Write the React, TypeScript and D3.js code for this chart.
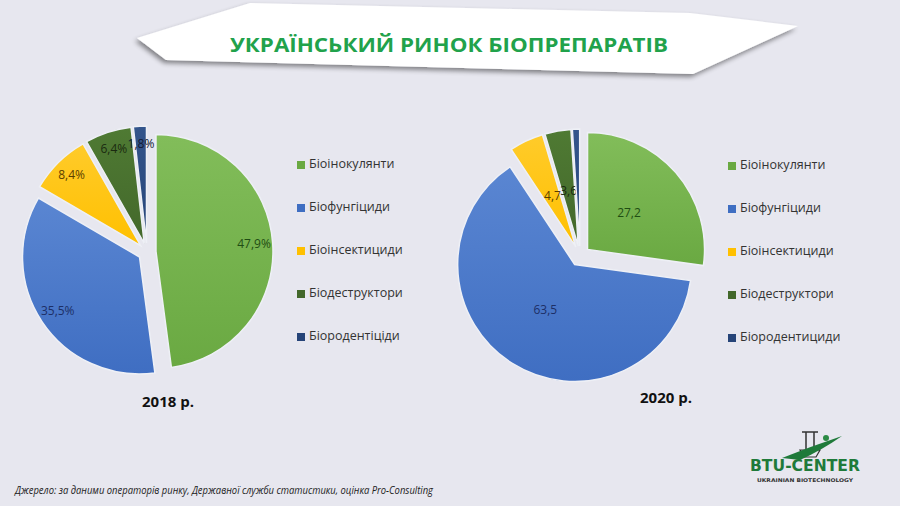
import React from 'react'
import * as d3 from 'd3'

const categories2018 = ['Біоінокулянти', 'Біофунгіциди', 'Біоінсектициди', 'Біодеструктори', 'Біородентіціди']
const categories2020 = ['Біоінокулянти', 'Біофунгіциди', 'Біоінсектициди', 'Біодеструктори', 'Біородентициди']
const values2018 = [47.9, 35.5, 8.4, 6.4, 1.8]
const values2020 = [27.2, 63.5, 4.7, 3.6, 1.0]
const labels2018 = ['47,9%', '35,5%', '8,4%', '6,4%', '1,8%']
const labels2020 = ['27,2', '63,5', '4,7', '3,6', '']

const colors = ['#6aa942', '#3f6ec2', '#ffc000', '#43682b', '#264478']
const lightColors = ['#82bd5a', '#5a86d2', '#ffcb2a', '#4f7a33', '#33558c']
const textColors = ['#1f4d13', '#1d2f66', '#5a3e00', '#1a2a10', '#111a33']

const W = 900
const H = 506
const R = 117

type PieProps = {
  id: string
  cx: number
  cy: number
  values: number[]
  labels: string[]
  labelRatio: number
  explode: number
}

function Pie({ id, cx, cy, values, labels, labelRatio, explode }: PieProps) {
  const arcs = d3.pie<number>().sort(null).value(d => d)(values)
  const arc = d3.arc<d3.PieArcDatum<number>>().innerRadius(0).outerRadius(R)

  return (
    <g transform={`translate(${cx},${cy})`}>
      {arcs.map((a, i) => {
        const mid = (a.startAngle + a.endAngle) / 2
        const dx = Math.sin(mid) * explode
        const dy = -Math.cos(mid) * explode
        const lr = R * labelRatio
        return (
          <g key={i} transform={`translate(${dx},${dy})`}>
            <path d={arc(a) || ''} fill={`url(#${id}-g${i})`} stroke="#eef0f6" strokeWidth={1.5} />
            {labels[i] && (
              <text
                x={Math.sin(mid) * lr}
                y={-Math.cos(mid) * lr}
                textAnchor="middle"
                dominantBaseline="middle"
                fontSize={12}
                fontFamily="'Open Sans', sans-serif"
                fill={textColors[i]}
              >
                {labels[i]}
              </text>
            )}
          </g>
        )
      })}
    </g>
  )
}

function Legend({ x, y, items }: { x: number; y: number; items: string[] }) {
  return (
    <g transform={`translate(${x},${y})`}>
      {items.map((t, i) => (
        <g key={t} transform={`translate(0,${i * 43})`}>
          <rect x={0} y={-4} width={8} height={8} fill={colors[i]} />
          <text x={12} y={0} dominantBaseline="middle" fontSize={12.5} fontFamily="'Open Sans', sans-serif" fill="#333">
            {t}
          </text>
        </g>
      ))}
    </g>
  )
}

export default function App() {
  const banner = [[137, 38], [250, 3], [690, 13], [798, 26], [693, 74], [166, 60]]
  const bannerPath = (d3.line()(banner as [number, number][]) || '') + 'Z'

  return (
    <svg width={W} height={H} style={{ position: 'absolute', left: 0, top: 0, display: 'block' }}>
      <defs>
        {['a', 'b'].map(id =>
          colors.map((c, i) => (
            <linearGradient key={id + i} id={`${id}-g${i}`} x1="0" y1="0" x2="0" y2="1">
              <stop offset="0%" stopColor={lightColors[i]} />
              <stop offset="100%" stopColor={c} />
            </linearGradient>
          ))
        )}
        <filter id="shadow" x="-10%" y="-30%" width="120%" height="160%">
          <feGaussianBlur in="SourceAlpha" stdDeviation="2.5" />
          <feOffset dx="-2" dy="3" result="b" />
          <feComponentTransfer>
            <feFuncA type="linear" slope="0.45" />
          </feComponentTransfer>
          <feMerge>
            <feMergeNode />
            <feMergeNode in="SourceGraphic" />
          </feMerge>
        </filter>
      </defs>

      <rect width={W} height={H} fill="#e7e7ef" />

      {/* title ribbon */}
      <path d={bannerPath} fill="#ffffff" filter="url(#shadow)" />
      <text
        x={449}
        y={52}
        textAnchor="middle"
        fontSize={20}
        fontWeight="bold"
        fontFamily="'Open Sans', sans-serif"
        fill="#21a24b"
        textLength={438}
        lengthAdjust="spacingAndGlyphs"
      >
        УКРАЇНСЬКИЙ РИНОК БІОПРЕПАРАТІВ
      </text>

      <Pie id="a" cx={147} cy={252} values={values2018} labels={labels2018} labelRatio={0.84} explode={9} />
      <Pie id="b" cx={580} cy={256} values={values2020} labels={labels2020} labelRatio={0.47} explode={10} />

      <Legend x={297} y={165} items={categories2018} />
      <Legend x={728} y={166} items={categories2020} />

      <text x={168} y={407} textAnchor="middle" fontSize={15} fontWeight="bold" fontFamily="'Open Sans', sans-serif" fill="#111">
        2018 р.
      </text>
      <text x={666} y={403} textAnchor="middle" fontSize={15} fontWeight="bold" fontFamily="'Open Sans', sans-serif" fill="#111">
        2020 р.
      </text>

      {/* logo */}
      <g>
        <path d="M806 432 L806 450 M814 432 L814 450 M802 432 L818 432" stroke="#333" strokeWidth={1.5} fill="none" />
        <path d="M800 450 L820 450 L816 457 L804 457 Z" fill="none" stroke="#333" strokeWidth={1.2} />
        <path d="M782 458 Q812 446 842 436 Q822 450 800 460 Z" fill="#1f7a3a" />
        <circle cx={826} cy={438} r={3} fill="#2b8a44" />
        <text x={805} y={471} textAnchor="middle" fontSize={15} fontWeight="bold" fontFamily="'DejaVu Sans', sans-serif" fill="#1f7a3a" textLength={110} lengthAdjust="spacingAndGlyphs">
          BTU-CENTER
        </text>
        <text x={805} y={482} textAnchor="middle" fontSize={5} fontWeight="bold" fontFamily="'DejaVu Sans', sans-serif" fill="#333" textLength={96} lengthAdjust="spacingAndGlyphs">
          UKRAINIAN BIOTECHNOLOGY
        </text>
      </g>

      <text
        x={15}
        y={494}
        fontSize={10}
        fontStyle="italic"
        fontFamily="'Open Sans', sans-serif"
        fill="#222"
        textLength={418}
        lengthAdjust="spacingAndGlyphs"
      >
        Джерело: за даними операторів ринку, Державної служби статистики, оцінка Pro-Consulting
      </text>
    </svg>
  )
}
